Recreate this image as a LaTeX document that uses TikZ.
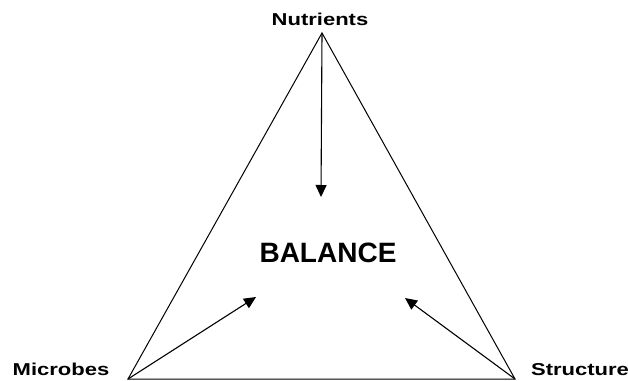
\documentclass[tikz,border=0pt]{standalone}
\usepackage{fontspec}
\setmainfont{Liberation Sans}
\usetikzlibrary{positioning,arrows.meta}

\begin{document}
\begin{tikzpicture}[x=1pt,y=-1pt,
  corner/.style={font=\bfseries\fontsize{17.2}{18}\selectfont, inner sep=0pt},
  centre/.style={font=\bfseries\fontsize{28}{30}\selectfont, inner sep=0pt},
  push/.style={line width=1.1pt, -{Triangle[length=12pt,width=11pt]}}]
\useasboundingbox (0,0) rectangle (628,380);
% corners of the triangle
\coordinate (top) at (322,33);
\coordinate (lft) at (128,379);
\coordinate (rgt) at (515,379);
\draw[line width=1pt] (top) -- (lft) -- (rgt) -- cycle;
% labels
\node[corner] (nutrients) at (320,19) {\scalebox{1.28}[1]{Nutrients}};
\node[corner] (microbes) at (61,369) {\scalebox{1.28}[1]{Microbes}};
\node[corner] (structure) at (580,370) {\scalebox{1.28}[1]{Structure}};
\node[centre] (balance) at (328,253) {BALANCE};
% arrows pointing in towards the balance
\coordinate (tipN) at (321,197);
\coordinate (tipM) at (256,297);
\coordinate (tipS) at (405,298);
\draw[push] (top) -- (tipN);
\draw[push] (lft) -- (tipM);
\draw[push] (rgt) -- (tipS);
\end{tikzpicture}
\end{document}
